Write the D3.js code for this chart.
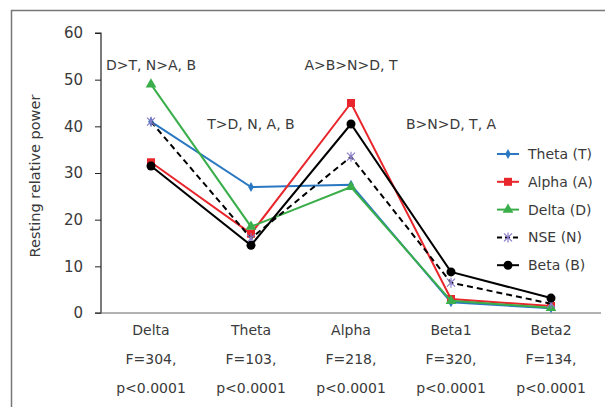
<!DOCTYPE html>
<html>
<head>
<meta charset="utf-8">
<script src="https://cdn.jsdelivr.net/npm/d3@7"></script>
<style>
  body { margin: 0; background: #fff; }
  svg text { font-family: "DejaVu Sans", sans-serif; fill: #3a3a3a; }
</style>
</head>
<body>
<div id="chart"></div>
<script>
// data
var bands = ["Delta", "Theta", "Alpha", "Beta1", "Beta2"];
var fStats = ["F=304,", "F=103,", "F=218,", "F=320,", "F=134,"];
var pStats = ["p<0.0001", "p<0.0001", "p<0.0001", "p<0.0001", "p<0.0001"];
var notes = ["D>T, N>A, B", "T>D, N, A, B", "A>B>N>D, T", "B>N>D, T, A"];
var noteLevel = [52, 39.5, 52, 39.5];

var seriesNames = ["Theta (T)", "Alpha (A)", "Delta (D)", "NSE (N)", "Beta (B)"];
var thetaVals = [41, 27, 27.5, 2.3, 1];
var alphaVals = [32.3, 17, 45, 3, 1.5];
var deltaVals = [49, 18.5, 27, 2.6, 1.1];
var nseVals   = [41, 16, 33.5, 6.5, 2];
var betaVals  = [31.5, 14.5, 40.5, 8.8, 3.2];
var yTicks = [0, 10, 20, 30, 40, 50, 60];

var series = [
  {name: seriesNames[0], vals: thetaVals, color: "#2b78c2", mark: "diamond", dash: null},
  {name: seriesNames[1], vals: alphaVals, color: "#e8262b", mark: "square", dash: null},
  {name: seriesNames[2], vals: deltaVals, color: "#3aae4a", mark: "triangle", dash: null},
  {name: seriesNames[3], vals: nseVals, color: "#000", mark: "star", dash: "6,4"},
  {name: seriesNames[4], vals: betaVals, color: "#000", mark: "circle", dash: null}
];

var W = 605, H = 407;
var margin = {top: 33, right: 4, bottom: 94, left: 101};
var width = W - margin.left - margin.right,
    height = H - margin.top - margin.bottom;

var svg = d3.select("#chart").append("svg")
    .attr("width", W).attr("height", H);

// outer frame (top + left edges)
svg.append("path")
    .attr("d", "M11.5," + H + "V10.5H" + W)
    .attr("fill", "none").attr("stroke", "#777").attr("stroke-width", 1.5);

var g = svg.append("g")
    .attr("transform", "translate(" + margin.left + "," + margin.top + ")");

var x = d3.scalePoint().domain(bands).range([0, width]).padding(0.5);
var y = d3.scaleLinear().domain([0, 60]).range([height, 0]);

// y axis
var yAxis = d3.axisLeft(y).tickValues(yTicks).tickSize(6).tickPadding(12);
var yG = g.append("g").call(yAxis);
yG.select(".domain").attr("stroke", "#222").attr("stroke-width", 1.2).attr("d", "M-6," + height + "H0V0H-6");
yG.selectAll(".tick line").attr("stroke", "#222");
yG.selectAll("text").style("font-size", "15px").attr("fill", "#3a3a3a");

// x axis line
g.append("line")
    .attr("x1", -6).attr("x2", width)
    .attr("y1", height).attr("y2", height)
    .attr("stroke", "#666").attr("stroke-width", 1.2);

// category labels
var lab = g.selectAll(".cat").data(bands).enter().append("g")
    .attr("transform", function(d) { return "translate(" + x(d) + "," + height + ")"; });
lab.append("text").attr("y", 22).attr("text-anchor", "middle").style("font-size", "14px")
    .text(function(d) { return d; });
lab.append("text").attr("y", 51).attr("text-anchor", "middle").style("font-size", "14px")
    .text(function(d, i) { return fStats[i]; });
lab.append("text").attr("y", 80).attr("text-anchor", "middle").style("font-size", "14px")
    .text(function(d, i) { return pStats[i]; });

// y title
svg.append("text")
    .attr("transform", "translate(40," + (margin.top + height / 2 + 3) + ") rotate(-90)")
    .attr("text-anchor", "middle").style("font-size", "14.5px")
    .text("Resting relative power");

// annotations
g.selectAll(".note").data(notes).enter().append("text")
    .attr("x", function(d, i) { return x(bands[i]); })
    .attr("y", function(d, i) { return y(noteLevel[i]); })
    .attr("text-anchor", "middle").style("font-size", "14px")
    .text(function(d) { return d; });

// marker drawing
function drawMark(sel, type, color) {
  if (type === "diamond") {
    sel.append("path").attr("d", d3.symbol(d3.symbolDiamond, 28)()).attr("fill", color);
  } else if (type === "square") {
    sel.append("rect").attr("x", -4).attr("y", -4).attr("width", 8).attr("height", 8).attr("fill", color);
  } else if (type === "triangle") {
    sel.append("path").attr("d", d3.symbol(d3.symbolTriangle, 50)()).attr("fill", color);
  } else if (type === "star") {
    sel.append("path").attr("d", "M-4,-4L4,4M-4,4L4,-4M0,-5V5")
      .attr("stroke", "#8a7cc8").attr("stroke-width", 1.2).attr("fill", "none");
  } else {
    sel.append("circle").attr("r", 4.5).attr("fill", color);
  }
}

var line = d3.line()
    .x(function(d, i) { return x(bands[i]); })
    .y(function(d) { return y(d); });

series.forEach(function(s) {
  g.append("path").datum(s.vals)
    .attr("d", line)
    .attr("fill", "none")
    .attr("stroke", s.color)
    .attr("stroke-width", 2)
    .attr("stroke-dasharray", s.dash);
  g.selectAll(null).data(s.vals).enter().append("g")
    .attr("transform", function(d, i) { return "translate(" + x(bands[i]) + "," + y(d) + ")"; })
    .each(function() { drawMark(d3.select(this), s.mark, s.color); });
});

// legend
var leg = svg.append("g").attr("transform", "translate(497,154)");
var row = leg.selectAll(".row").data(series).enter().append("g")
    .attr("transform", function(d, i) { return "translate(0," + (i * 27.8) + ")"; });
row.append("line").attr("x1", 0).attr("x2", 22)
    .attr("stroke", function(d) { return d.color; })
    .attr("stroke-width", 2)
    .attr("stroke-dasharray", function(d) { return d.dash ? "5,3" : null; });
row.each(function(d) {
  var m = d3.select(this).append("g").attr("transform", "translate(11,0)");
  drawMark(m, d.mark, d.color);
});
row.append("text").attr("x", 31).attr("y", 5).style("font-size", "14px")
    .text(function(d) { return d.name; });
</script>
</body>
</html>
